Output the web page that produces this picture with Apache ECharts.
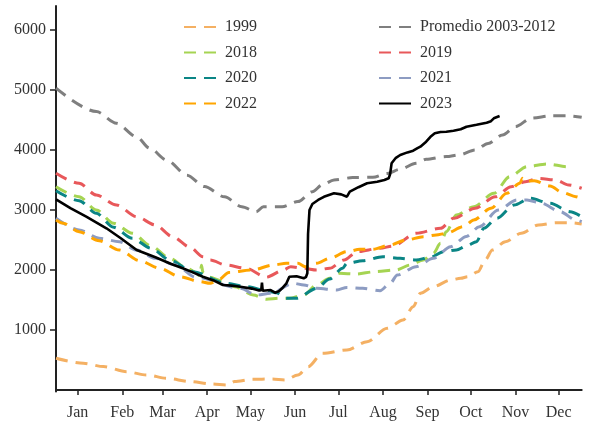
<!DOCTYPE html>
<html>
<head>
<meta charset="utf-8">
<script src="https://cdn.jsdelivr.net/npm/echarts@6/dist/echarts.min.js"></script>
<style>html,body{margin:0;padding:0;background:#fff}#c{width:595px;height:424px}</style>
</head>
<body>
<div id="c"></div>
<script>
// x = day of year (0..365), y = value
const monthNames = ['Jan','Feb','Mar','Apr','May','Jun','Jul','Aug','Sep','Oct','Nov','Dec'];
const monthTicks = [15,46,74,105,135,166,196,227,258,288,319,349];
const yTicks = [1000,2000,3000,4000,5000,6000];

const s1999 = [[0,528],[19,445],[33,390],[49,305],[63,250],[77,195],[93,140],[108,100],[119,83],[124,140],[136,178],[150,183],[159,167],[168,250],[175,388],[185,612],[202,667],[216,805],[230,1028],[241,1167],[248,1388],[253,1612],[262,1722],[274,1833],[281,1862],[286,1888],[293,1972],[298,2167],[303,2333],[312,2472],[323,2612],[335,2750],[347,2788],[358,2788],[365,2767]];
const sProm = [[0,5030],[28,4640],[42,4445],[56,4220],[65,4030],[77,3830],[91,3580],[103,3390],[117,3220],[129,3055],[139,2970],[144,3055],[157,3055],[168,3140],[178,3305],[185,3420],[193,3500],[206,3540],[220,3545],[230,3610],[239,3680],[250,3780],[257,3845],[271,3890],[280,3920],[291,4000],[300,4110],[310,4250],[319,4390],[330,4530],[344,4570],[356,4570],[365,4545]];
const s2018 = [[0,3388],[16,3222],[28,3000],[40,2778],[53,2612],[66,2400],[79,2195],[91,2028],[97,1960],[100,1900],[101,2080],[102,1960],[106,1880],[115,1820],[124,1722],[137,1583],[146,1512],[155,1528],[162,1528],[172,1583],[181,1750],[190,1862],[197,1945],[208,1933],[222,1972],[236,2000],[246,2083],[255,2167],[262,2278],[267,2445],[271,2638],[278,2917],[290,3055],[304,3278],[315,3555],[327,3722],[341,3767],[355,3722],[358,3700]];
const s2019 = [[0,3612],[16,3445],[28,3250],[42,3083],[56,2888],[69,2750],[81,2555],[93,2380],[102,2222],[107,2167],[118,2083],[132,2028],[146,1880],[158,2000],[163,2055],[172,2028],[181,2000],[190,2028],[200,2167],[209,2305],[225,2362],[234,2400],[250,2612],[267,2695],[276,2862],[291,3028],[305,3222],[316,3388],[326,3472],[335,3528],[347,3500],[356,3417],[365,3362]];
const s2020 = [[0,3322],[16,3155],[28,2945],[40,2712],[53,2528],[66,2362],[79,2167],[93,2000],[95,1972],[118,1778],[132,1722],[149,1638],[153,1622],[160,1528],[167,1528],[181,1695],[190,1850],[199,2028],[202,2112],[213,2155],[227,2222],[239,2195],[250,2167],[260,2212],[269,2305],[278,2333],[285,2400],[292,2472],[297,2695],[306,2862],[318,3083],[329,3195],[343,3112],[357,2972],[365,2888]];
const s2021 = [[0,2862],[16,2667],[30,2528],[44,2472],[56,2333],[69,2195],[83,2083],[97,1880],[128,1695],[139,1583],[149,1612],[165,1778],[172,1750],[181,1695],[195,1667],[202,1710],[213,1695],[225,1655],[232,1778],[237,1917],[250,2055],[262,2195],[274,2388],[285,2560],[294,2720],[307,3000],[320,3167],[327,3167],[337,3112],[350,2972],[361,2833],[365,2805]];
const s2022 = [[0,2833],[5,2778],[16,2638],[30,2488],[44,2333],[58,2155],[72,2028],[86,1888],[100,1805],[107,1778],[113,1840],[120,1960],[136,2000],[151,2083],[160,2112],[168,2112],[173,2055],[181,2112],[190,2195],[202,2305],[211,2345],[220,2345],[232,2417],[243,2500],[255,2555],[264,2583],[271,2612],[283,2722],[290,2833],[302,3028],[313,3278],[322,3445],[324,3528],[325,3480],[332,3488],[343,3400],[352,3288],[361,3222],[364,3200]];
const s2023 = [[0,3178],[10,3030],[21,2888],[35,2695],[45,2530],[56,2333],[69,2212],[80,2100],[88,2028],[95,1960],[102,1888],[110,1820],[116,1750],[122,1740],[128,1722],[136,1690],[141,1660],[142.5,1665],[143,1790],[143.5,1655],[149,1667],[152,1622],[155,1650],[157,1695],[160,1778],[162,1888],[167,1895],[172,1862],[173.5,1880],[174.5,1945],[175,2600],[176,3000],[178,3100],[182,3167],[186,3220],[193,3278],[198,3260],[202,3222],[204,3305],[210,3380],[216,3445],[223,3472],[228,3500],[231,3528],[232,3600],[233,3778],[236,3870],[239,3917],[244,3960],[248,3988],[251,4030],[253,4055],[257,4138],[260,4220],[263,4278],[267,4300],[271,4305],[276,4320],[281,4345],[285,4388],[292,4420],[299,4455],[302,4480],[304,4528],[308,4567]];

const FONT = 'Liberation Serif';
const TXT = '#333';
const DASH = [12, 8];

function dashed(name, data, color) {
  return {
    name: name, type: 'line', data: data, symbol: 'none', smooth: 0.3, smoothMonotone: 'x',
    lineStyle: {color: color, width: 3, type: DASH}, itemStyle: {color: color}
  };
}

const chart = echarts.init(document.getElementById('c'), null, {renderer: 'canvas'});
const legendCommon = {
  orient: 'vertical', top: 19, padding: 0, itemWidth: 32, itemHeight: 14, itemGap: 9.5,
  itemStyle: {opacity: 0},
  textStyle: {fontFamily: FONT, fontSize: 16, color: TXT, padding: [0, 0, 0, 4]},
  selectedMode: false
};
chart.setOption({
  animation: false,
  backgroundColor: '#fff',
  grid: {left: 56, right: 13.3, top: 6, bottom: 32.5, containLabel: false, outerBoundsMode: 'none'},
  legend: [
    Object.assign({left: 183, data: ['1999', '2018', '2020', '2022']}, legendCommon),
    Object.assign({left: 378, data: ['Promedio 2003-2012', '2019', '2021', '2023']}, legendCommon)
  ],
  xAxis: {
    type: 'value', min: 0, max: 365,
    splitLine: {show: false},
    axisLine: {lineStyle: {color: '#222', width: 2}},
    axisTick: {customValues: monthTicks, length: 5, lineStyle: {color: '#222', width: 1.5}},
    axisLabel: {
      customValues: monthTicks, margin: 13,
      fontFamily: FONT, fontSize: 16, color: TXT,
      formatter: function (v) { const i = monthTicks.indexOf(Math.round(v)); return i >= 0 ? monthNames[i] : ''; }
    }
  },
  yAxis: {
    type: 'value', min: -25, max: 6400,
    splitLine: {show: false},
    axisLine: {show: true, lineStyle: {color: '#222', width: 2}},
    axisTick: {show: true, customValues: yTicks, length: 6, lineStyle: {color: '#222', width: 1.5}},
    axisLabel: {customValues: yTicks, margin: 10, fontFamily: FONT, fontSize: 16, color: TXT,
      formatter: function (v) { return String(Math.round(v)); }}
  },
  series: [
    dashed('1999', s1999, '#f4b063'),
    dashed('Promedio 2003-2012', sProm, '#7f7f7f'),
    dashed('2018', s2018, '#a5d452'),
    dashed('2019', s2019, '#e8585a'),
    dashed('2020', s2020, '#0a8585'),
    dashed('2021', s2021, '#8d9cc2'),
    dashed('2022', s2022, '#ffa500'),
    {name: '2023', type: 'line', data: s2023, symbol: 'none', lineStyle: {color: '#000', width: 2.6}, itemStyle: {color: '#000'}}
  ]
});
</script>
</body>
</html>
